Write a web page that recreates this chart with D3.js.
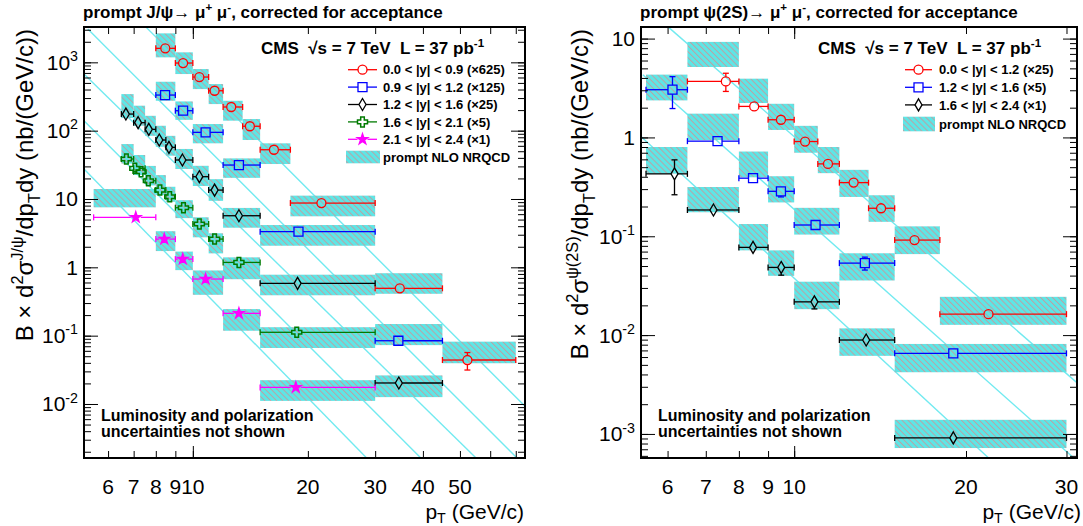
<!DOCTYPE html>
<html>
<head>
<meta charset="utf-8">
<script src="https://cdn.jsdelivr.net/npm/d3@7"></script>
<style>
body { margin: 0; background: #fff; }
svg text { font-family: "Liberation Sans", Arial, Helvetica, sans-serif; fill: #000; }
</style>
</head>
<body>
<svg id="chart" width="1083" height="526"></svg>
<script>
// ---- J/psi panel data (pT bins, measured points, NRQCD boxes) ----
const jRedLo = [8, 9, 10, 11, 12, 13.5, 15, 18, 30, 45]
const jRedHi = [9, 10, 11, 12, 13.5, 15, 18, 30, 45, 70]
const jRedPt = [8.47, 9.43, 10.4, 11.4, 12.6, 14.1, 16.3, 21.7, 34.8, 52.3]
const jRedVal = [1603, 977, 609, 384, 222, 116, 52.6, 8.73, 0.493, 0.044]
const jRedErr = [50, 30, 18, 12, 7, 4, 2, 0.4, 0.04, 0.0126]
const jRedThLo = [1183, 674, 406, 245, 140, 73, 32.5, 5.58, 0.41, 0.0395]
const jRedThHi = [2656, 1401, 798, 481, 274, 148, 65.3, 11.2, 0.82, 0.0817]

const jBlueLo = [8, 9, 10, 12, 15, 30]
const jBlueHi = [9, 10, 12, 15, 30, 45]
const jBluePt = [8.46, 9.43, 10.8, 13.2, 18.9, 34.5]
const jBlueVal = [332, 196, 94.5, 31.4, 3.32, 0.0843]
const jBlueErr = [12, 7, 3.5, 1.3, 0.15, 0.006]
const jBlueThLo = [274, 144, 65.3, 20.4, 2.07, 0.0727]
const jBlueThHi = [520, 268, 125, 39.3, 4.16, 0.148]

const jBlackLo = [6.5, 7, 7.5, 8, 8.5, 9, 10, 11, 12, 15, 30]
const jBlackHi = [7, 7.5, 8, 8.5, 9, 10, 11, 12, 15, 30, 45]
const jBlackPt = [6.68, 7.19, 7.67, 8.17, 8.66, 9.39, 10.4, 11.4, 13.2, 18.8, 34.6]
const jBlackVal = [175, 131, 104.5, 73, 57, 37.2, 21.2, 13.5, 5.69, 0.583, 0.0203]
const jBlackErr = [8, 5, 4, 3, 2.5, 1.5, 1, 0.6, 0.25, 0.03, 0.0015]
const jBlackThLo = [153, 118, 84, 58, 43, 27.5, 15.5, 9.4, 3.8, 0.39, 0.0126]
const jBlackThHi = [343, 232, 165, 118, 84, 54, 30.6, 19.5, 7.4, 0.78, 0.0262]

const jGreenLo = [6.5, 7, 7, 7.5, 8, 8.5, 9, 10, 11, 12, 15]
const jGreenHi = [7, 7.5, 7.5, 8, 8.5, 9, 10, 11, 12, 15, 30]
const jGreenPt = [6.7, 7.05, 7.32, 7.65, 8.2, 8.7, 9.45, 10.4, 11.4, 13.2, 18.7]
const jGreenVal = [38.5, 28.1, 25.1, 18.5, 13.5, 10.8, 7.45, 4.3, 2.59, 1.18, 0.112]
const jGreenErr = [2, 1.4, 1.2, 0.9, 0.6, 0.5, 0.35, 0.2, 0.12, 0.06, 0.008]
const jGreenThLo = [33, 22.5, 22.5, 15.8, 11.4, 9.1, 5.25, 2.75, 1.6, 0.67, 0.066]
const jGreenThHi = [63.7, 44, 44, 30.5, 22.4, 15.1, 9.6, 5.4, 3.15, 1.4, 0.133]

const jMagLo = [5.5, 8, 9, 10, 12, 15]
const jMagHi = [8, 9, 10, 12, 15, 30]
const jMagPt = [7.09, 8.42, 9.41, 10.8, 13.2, 18.6]
const jMagVal = [5.39, 2.59, 1.32, 0.674, 0.212, 0.0175]
const jMagErr = [0.3, 0.15, 0.08, 0.05, 0.015, 0.0015]
const jMagThLo = [7.55, 1.73, 0.91, 0.396, 0.118, 0.0111]
const jMagThHi = [14, 3.38, 1.7, 0.9, 0.245, 0.0223]

// cyan guide lines, two [pT, value] ends each
const jLines = [
    [[7.55, 3251], [74, 0.00925]],
    [[5.31, 3069], [70.5, 0.00162]],
    [[5.19, 674], [55.1, 0.00162]],
    [[5.19, 139.6], [39.5, 0.00162]],
    [[5.19, 27.4], [28.5, 0.00162]]
]
const jLegend = ['0.0 < |y| < 0.9 (\u00d7625)', '0.9 < |y| < 1.2 (\u00d7125)', '1.2 < |y| < 1.6 (\u00d725)',
    '1.6 < |y| < 2.1 (\u00d75)', '2.1 < |y| < 2.4 (\u00d71)']
const jXLabels = [6, 7, 8, 9, 10, 20, 30, 40, 50]
const jXTicks = [6, 7, 8, 9, 10, 20, 30, 40, 50, 60, 70]
const jYLabels = [1000, 100, 10, 1, 0.1, 0.01]

// ---- psi(2S) panel data ----
const pRedLo = [6.5, 8, 9, 10, 11, 12, 13.5, 15, 18]
const pRedHi = [8, 9, 10, 11, 12, 13.5, 15, 18, 30]
const pRedPt = [7.59, 8.51, 9.48, 10.45, 11.46, 12.71, 14.2, 16.25, 21.9]
const pRedVal = [3.69, 2.06, 1.51, 0.909, 0.54, 0.349, 0.192, 0.0915, 0.0163]
const pRedErr = [0.77, 0.15, 0.1, 0.07, 0.05, 0.03, 0.02, 0.008, 0.0017]
const pRedThLo = [5.16, 2.23, 1.19, 0.7, 0.435, 0.25, 0.14, 0.066, 0.0127]
const pRedThHi = [9.26, 3.93, 2.19, 1.31, 0.8, 0.47, 0.26, 0.126, 0.0244]

const pBlueLo = [5.5, 6.5, 8, 9, 10, 12, 15]
const pBlueHi = [6.5, 8, 9, 10, 12, 15, 30]
const pBluePt = [6.12, 7.34, 8.47, 9.48, 10.9, 13.3, 19.0]
const pBlueVal = [3.04, 0.917, 0.387, 0.285, 0.13, 0.0535, 0.00654]
const pBlueErr = [1.08, 0.05, 0.03, 0.035, 0.012, 0.008, 0.0007]
const pBlueThLo = [2.37, 0.94, 0.395, 0.22, 0.104, 0.0357, 0.00421]
const pBlueThHi = [4.32, 1.74, 0.72, 0.405, 0.194, 0.0673, 0.00814]

const pBlackLo = [5.5, 6.5, 8, 9, 10, 12, 15]
const pBlackHi = [6.5, 8, 9, 10, 12, 15, 30]
const pBlackPt = [6.17, 7.22, 8.47, 9.49, 10.85, 13.37, 19.0]
const pBlackVal = [0.428, 0.1845, 0.0772, 0.0484, 0.0217, 0.00892, 0.000912]
const pBlackErr = [0.165, 0.012, 0.009, 0.008, 0.0033, 0.0012, 0.00011]
const pBlackThLo = [0.43, 0.175, 0.072, 0.0398, 0.0183, 0.00617, 0.00072]
const pBlackThHi = [0.8, 0.315, 0.133, 0.072, 0.0347, 0.0117, 0.00139]

const pLines = [
    [[6.04, 12.84], [31.4, 0.00324]],
    [[5.43, 4.31], [31.4, 0.000525]],
    [[5.39, 1.02], [22.0, 0.000559]]
]
const pLegend = ['0.0 < |y| < 1.2 (\u00d725)', '1.2 < |y| < 1.6 (\u00d75)', '1.6 < |y| < 2.4 (\u00d71)']
const pXLabels = [6, 7, 8, 9, 10, 20, 30]
const pXTicks = [6, 7, 8, 9, 10, 20, 30]
const pYLabels = [10, 1, 0.1, 0.01, 0.001]

const theoryLabel = 'prompt NLO NRQCD'

const cyanBox = '#5ee6e6'
const hatchCol = '#d88c90'
const cyanLine = '#72eaf0'

const svg = d3.select('#chart')
const defs = svg.append('defs')
const pat = defs.append('pattern').attr('id', 'hatch')
    .attr('patternUnits', 'userSpaceOnUse')
    .attr('width', 4.2).attr('height', 4.2)
    .attr('patternTransform', 'rotate(-45)')
pat.append('rect').attr('width', 4.2).attr('height', 4.2).attr('fill', cyanBox)
pat.append('line').attr('x1', 0.5).attr('y1', 0).attr('x2', 0.5).attr('y2', 4.2)
    .attr('stroke', hatchCol).attr('stroke-width', 0.75)

function series(lo, hi, pt, val, err, thLo, thHi, color, marker) {
    return lo.map((l, i) => ({
        lo: l, hi: hi[i], pt: pt[i], v: val[i], e: err[i], tlo: thLo[i], thi: thHi[i], color, marker
    }))
}

// text with super/subscripts, parts = [[str, 'sup'|'sub'|undefined], ...]
function rich(t, parts, size, subShift) {
    let shift = 0
    parts.forEach(p => {
        const s = p[1] === 'sup' ? -0.42 * size : p[1] === 'sub' ? (subShift || 0.28) * size : 0
        const ts = t.append('tspan').text(p[0]).attr('dy', s - shift)
        if (p[1]) ts.attr('font-size', size * 0.68)
        shift = s
    })
}

// marker half sizes [w, h]
const half = { circle: [4.5, 4.5], square: [4.5, 4.5], diamond: [3.5, 6], cross: [5, 5], star: [5, 5] }
function markerPath(type) {
    if (type === 'circle') return d3.symbol(d3.symbolCircle, Math.PI * 4.5 * 4.5)()
    if (type === 'square') return 'M-4.5,-4.5H4.5V4.5H-4.5Z'
    if (type === 'diamond') return 'M0,-6L3.5,0L0,6L-3.5,0Z'
    if (type === 'star') return d3.symbol(d3.symbolStar, 36)()
    const a = 1.8, L = 5
    return `M${-a},${-L}H${a}V${-a}H${L}V${a}H${a}V${L}H${-a}V${a}H${-L}V${-a}H${-a}Z`
}
function drawMarker(g, type, color, cx, cy) {
    g.append('path').attr('d', markerPath(type))
        .attr('transform', `translate(${cx},${cy})`)
        .attr('fill', type === 'star' ? color : 'none')
        .attr('stroke', color).attr('stroke-width', type === 'cross' ? 1.5 : 1.3)
}

function drawPanel(p) {
    const f = p.frame
    const x = d3.scaleLog().domain(p.xDomain).range([f.x0, f.x1])
    const y = d3.scaleLog().domain(p.yDomain).range([f.y1, f.y0])
    const g = svg.append('g')

    defs.append('clipPath').attr('id', 'clip-' + p.id).append('rect')
        .attr('x', f.x0).attr('y', f.y0).attr('width', f.x1 - f.x0).attr('height', f.y1 - f.y0)
    const plot = g.append('g').attr('clip-path', `url(#clip-${p.id})`)

    // diagonal guide lines sit under the boxes
    plot.selectAll('path.guide').data(p.lines).enter().append('path')
        .attr('class', 'guide')
        .attr('d', d3.line().x(d => x(d[0])).y(d => y(d[1])))
        .attr('fill', 'none').attr('stroke', cyanLine).attr('stroke-width', 1.4)

    const all = p.series.flat()
    plot.selectAll('rect.th').data(all).enter().append('rect')
        .attr('class', 'th')
        .attr('x', d => x(d.lo)).attr('width', d => x(d.hi) - x(d.lo))
        .attr('y', d => y(d.thi)).attr('height', d => y(d.tlo) - y(d.thi))
        .attr('fill', 'url(#hatch)')

    // data points with error bars
    all.forEach(d => {
        const cx = x(d.pt), cy = y(d.v)
        const [hw, hh] = half[d.marker]
        const eg = plot.append('g').attr('stroke', d.color).attr('stroke-width', 1.3)
        const xl = x(d.lo), xh = x(d.hi)
        if (cx - hw > xl) eg.append('line').attr('x1', xl).attr('x2', cx - hw).attr('y1', cy).attr('y2', cy)
        if (cx + hw < xh) eg.append('line').attr('x1', cx + hw).attr('x2', xh).attr('y1', cy).attr('y2', cy)
        eg.append('line').attr('x1', xl).attr('x2', xl).attr('y1', cy - 3).attr('y2', cy + 3)
        eg.append('line').attr('x1', xh).attr('x2', xh).attr('y1', cy - 3).attr('y2', cy + 3)
        const yt = y(d.v + d.e), yb = y(Math.max(d.v - d.e, d.v * 0.05))
        if (cy - yt > hh + 1) {
            eg.append('line').attr('x1', cx).attr('x2', cx).attr('y1', yt).attr('y2', cy - hh)
            eg.append('line').attr('x1', cx - 3).attr('x2', cx + 3).attr('y1', yt).attr('y2', yt)
        }
        if (yb - cy > hh + 1) {
            eg.append('line').attr('x1', cx).attr('x2', cx).attr('y1', cy + hh).attr('y2', yb)
            eg.append('line').attr('x1', cx - 3).attr('x2', cx + 3).attr('y1', yb).attr('y2', yb)
        }
        drawMarker(plot, d.marker, d.color, cx, cy)
    })

    // ROOT style ticks, inside on all four sides
    const [ylo, yhi] = p.yDomain
    const yMinor = []
    for (let e = Math.floor(Math.log10(ylo)); e <= Math.ceil(Math.log10(yhi)); e++) {
        for (let k = 1; k < 10; k++) {
            const v = k * Math.pow(10, e)
            if (v >= ylo && v <= yhi) yMinor.push(v)
        }
    }
    const yMajor = yMinor.filter(v => Math.abs(Math.log10(v) - Math.round(Math.log10(v))) < 1e-9)
    const tk = (axis, scale, vals, size, tr) => {
        const a = g.append('g').attr('transform', tr)
            .call(axis(scale).tickValues(vals).tickSize(size).tickFormat(''))
        a.select('.domain').remove()
        a.selectAll('line').attr('stroke', '#000').attr('stroke-width', 1)
    }
    tk(d3.axisLeft, y, yMinor, -7, `translate(${f.x0},0)`)
    tk(d3.axisLeft, y, yMajor, -14, `translate(${f.x0},0)`)
    tk(d3.axisRight, y, yMinor, -7, `translate(${f.x1},0)`)
    tk(d3.axisRight, y, yMajor, -14, `translate(${f.x1},0)`)
    tk(d3.axisBottom, x, p.xTicks, -7, `translate(0,${f.y1})`)
    tk(d3.axisBottom, x, [10], -12, `translate(0,${f.y1})`)
    tk(d3.axisTop, x, p.xTicks, -7, `translate(0,${f.y0})`)
    tk(d3.axisTop, x, [10], -12, `translate(0,${f.y0})`)

    g.append('rect').attr('x', f.x0).attr('y', f.y0)
        .attr('width', f.x1 - f.x0).attr('height', f.y1 - f.y0)
        .attr('fill', 'none').attr('stroke', '#000').attr('stroke-width', 2)

    // tick labels
    g.selectAll('text.xl').data(p.xLabels).enter().append('text')
        .attr('class', 'xl')
        .attr('x', d => x(d)).attr('y', f.y1 + 36)
        .attr('text-anchor', 'middle').attr('font-size', 21)
        .text(d => d)
    p.yLabels.forEach(v => {
        const e = Math.round(Math.log10(v))
        const t = g.append('text').attr('x', f.x0 - 6).attr('y', y(v) + 7.5)
            .attr('text-anchor', 'end').attr('font-size', 21)
        if (e === 0) t.text('1')
        else if (e === 1) t.text('10')
        else rich(t, [['10'], [String(e), 'sup']], 21)
    })

    // axis titles
    const xt = g.append('text').attr('x', p.xTitleX).attr('y', 518.5)
        .attr('text-anchor', 'end').attr('font-size', 21)
    rich(xt, [['p'], ['T', 'sub'], ['\u00a0(GeV/c)']], 21, 0.2)
    const yt = g.append('text')
        .attr('transform', `translate(${p.yTitleX},29) rotate(-90)`)
        .attr('text-anchor', 'end').attr('font-size', 24)
    rich(yt, p.yTitle, 24)

    // header and notes
    const tt = g.append('text').attr('x', f.x0 - 1).attr('y', 18)
        .attr('font-size', 17).attr('font-weight', 'bold')
    rich(tt, p.title, 17)
    const cms = g.append('text').attr('x', p.cmsX).attr('y', 54)
        .attr('font-size', 17).attr('font-weight', 'bold')
    rich(cms, [['CMS\u00a0\u00a0\u221as = 7 TeV\u00a0\u00a0L = 37 pb'], ['-1', 'sup']], 17)
    g.append('text').attr('x', f.x0 + 17).attr('y', 421)
        .attr('font-size', 16).attr('font-weight', 'bold')
        .text('Luminosity and polarization')
    g.append('text').attr('x', f.x0 + 17).attr('y', 437)
        .attr('font-size', 16).attr('font-weight', 'bold')
        .text('uncertainties not shown')

    // legend
    const lg = p.legend
    p.labels.forEach((lab, i) => {
        const cy = lg.y0 + i * lg.dy
        const s = p.series[i][0]
        const hw = half[s.marker][0]
        const mx = (lg.lx0 + lg.lx1) / 2
        g.append('line').attr('x1', lg.lx0).attr('x2', mx - hw).attr('y1', cy).attr('y2', cy)
            .attr('stroke', s.color).attr('stroke-width', 1.3)
        g.append('line').attr('x1', mx + hw).attr('x2', lg.lx1).attr('y1', cy).attr('y2', cy)
            .attr('stroke', s.color).attr('stroke-width', 1.3)
        drawMarker(g, s.marker, s.color, mx, cy)
        g.append('text').attr('x', lg.tx).attr('y', cy + 4.6)
            .attr('font-size', 13).attr('font-weight', 'bold').text(lab)
    })
    g.append('rect').attr('x', lg.bx0).attr('y', lg.by - lg.bh / 2)
        .attr('width', lg.bx1 - lg.bx0).attr('height', lg.bh)
        .attr('fill', 'url(#hatch)')
    g.append('text').attr('x', lg.tx).attr('y', lg.by + 4.6)
        .attr('font-size', 13).attr('font-weight', 'bold').text(theoryLabel)
}

drawPanel({
    id: 'jpsi',
    frame: { x0: 84, x1: 525, y0: 27, y1: 458 },
    xDomain: [5.19, 74], yDomain: [0.00162, 3290],
    series: [
        series(jRedLo, jRedHi, jRedPt, jRedVal, jRedErr, jRedThLo, jRedThHi, '#ff0000', 'circle'),
        series(jBlueLo, jBlueHi, jBluePt, jBlueVal, jBlueErr, jBlueThLo, jBlueThHi, '#0000ff', 'square'),
        series(jBlackLo, jBlackHi, jBlackPt, jBlackVal, jBlackErr, jBlackThLo, jBlackThHi, '#000000', 'diamond'),
        series(jGreenLo, jGreenHi, jGreenPt, jGreenVal, jGreenErr, jGreenThLo, jGreenThHi, '#007a00', 'cross'),
        series(jMagLo, jMagHi, jMagPt, jMagVal, jMagErr, jMagThLo, jMagThHi, '#ff00ff', 'star')
    ],
    lines: jLines, labels: jLegend,
    xLabels: jXLabels, xTicks: jXTicks, yLabels: jYLabels,
    xTitleX: 524, yTitleX: 33, cmsX: 261,
    title: [['prompt J/\u03c8\u2192 \u03bc'], ['+', 'sup'], [' \u03bc'], ['-', 'sup'], [', corrected for acceptance']],
    yTitle: [['B \u00d7 d'], ['2', 'sup'], ['\u03c3'], ['J/\u03c8', 'sup'], ['/dp'], ['T', 'sub'], ['dy (nb/(GeV/c))']],
    legend: { tx: 383, lx0: 348, lx1: 377, y0: 69.7, dy: 17.4, bx0: 346, bx1: 380, by: 157, bh: 12.6 }
})

drawPanel({
    id: 'psi2s',
    frame: { x0: 641, x1: 1077, y0: 27, y1: 458 },
    xDomain: [5.39, 31.3], yDomain: [0.000571, 13.1],
    series: [
        series(pRedLo, pRedHi, pRedPt, pRedVal, pRedErr, pRedThLo, pRedThHi, '#ff0000', 'circle'),
        series(pBlueLo, pBlueHi, pBluePt, pBlueVal, pBlueErr, pBlueThLo, pBlueThHi, '#0000ff', 'square'),
        series(pBlackLo, pBlackHi, pBlackPt, pBlackVal, pBlackErr, pBlackThLo, pBlackThHi, '#000000', 'diamond')
    ],
    lines: pLines, labels: pLegend,
    xLabels: pXLabels, xTicks: pXTicks, yLabels: pYLabels,
    xTitleX: 1081, yTitleX: 588, cmsX: 818,
    title: [['prompt \u03c8(2S)\u2192 \u03bc'], ['+', 'sup'], [' \u03bc'], ['-', 'sup'], [', corrected for acceptance']],
    yTitle: [['B \u00d7 d'], ['2', 'sup'], ['\u03c3'], ['\u03c8(2S)', 'sup'], ['/dp'], ['T', 'sub'], ['dy (nb/(GeV/c))']],
    legend: { tx: 939, lx0: 905, lx1: 932, y0: 69.7, dy: 17.6, bx0: 903, bx1: 935, by: 124, bh: 14.6 }
})
</script>
</body>
</html>
